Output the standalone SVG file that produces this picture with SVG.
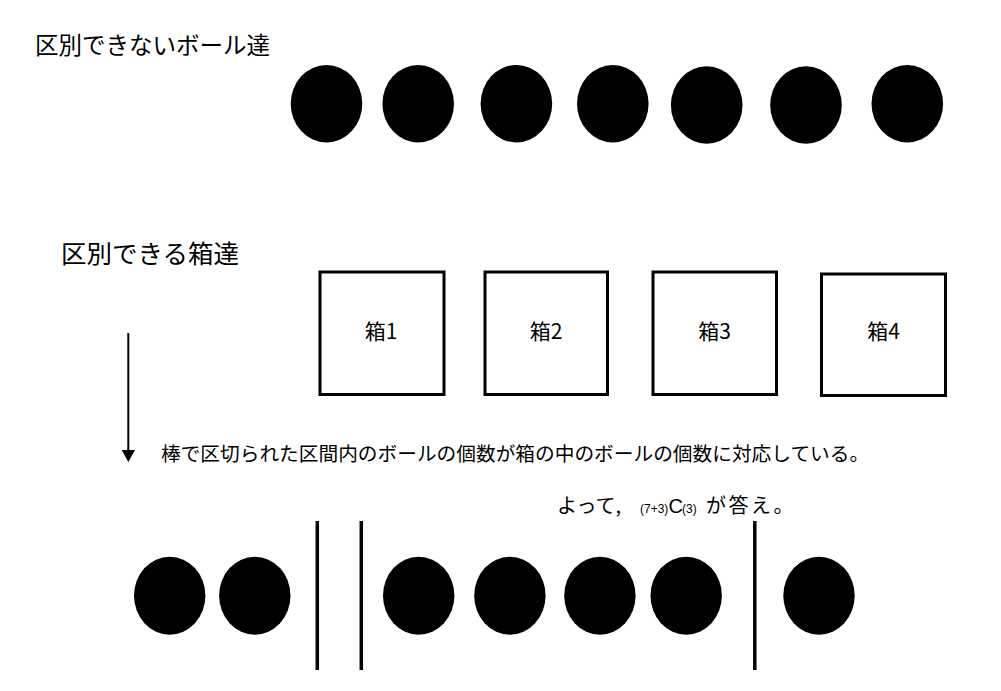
<svg xmlns="http://www.w3.org/2000/svg" width="1001" height="691" viewBox="0 0 1001 691">
<style>
.t{font-family:"Noto Sans CJK JP","Noto Sans",sans-serif;fill:#000}
.ball{fill:#000}
.box{fill:#fff;stroke:#000;stroke-width:3}
.bar{stroke:#000;stroke-width:3.5}
</style>
<rect width="1001" height="691" fill="#fff"/>
<text id="label-balls" class="t" x="35" y="54" font-size="23.5">区別できないボール達</text>
<g id="top-balls">
<ellipse class="ball" cx="326.5" cy="103.7" rx="35.8" ry="38.7"/>
<ellipse class="ball" cx="418.2" cy="103.7" rx="35.8" ry="38.7"/>
<ellipse class="ball" cx="516.4" cy="103.7" rx="35.8" ry="38.7"/>
<ellipse class="ball" cx="612.8" cy="103.7" rx="35.8" ry="38.7"/>
<ellipse class="ball" cx="706.7" cy="105" rx="35.8" ry="38.7"/>
<ellipse class="ball" cx="806" cy="105" rx="35.8" ry="38.7"/>
<ellipse class="ball" cx="907.3" cy="103.7" rx="35.8" ry="38.7"/>
</g>
<text id="label-boxes" class="t" x="61" y="263" font-size="25.5">区別できる箱達</text>
<g id="box1"><rect class="box" x="320" y="272" width="124" height="122.5"/><text class="t" x="381" y="338.5" font-size="21" text-anchor="middle">箱1</text></g>
<g id="box2"><rect class="box" x="485" y="272" width="122.5" height="122.5"/><text class="t" x="546" y="338.5" font-size="21" text-anchor="middle">箱2</text></g>
<g id="box3"><rect class="box" x="653" y="272" width="123.5" height="122.5"/><text class="t" x="714.5" y="338.5" font-size="21" text-anchor="middle">箱3</text></g>
<g id="box4"><rect class="box" x="821.5" y="274" width="124" height="121.5"/><text class="t" x="883.5" y="338.5" font-size="21" text-anchor="middle">箱4</text></g>
<g id="connectors">
<line x1="128.3" y1="333" x2="128.3" y2="451" stroke="#000" stroke-width="2"/>
<polygon points="121.7,450 135,450 128.3,462" fill="#000"/>
</g>
<text id="explanation" class="t" x="161" y="461" font-size="19.7">棒で区切られた区間内のボールの個数が箱の中のボールの個数に対応している。</text>
<text id="answer" class="t" y="513" font-size="20"><tspan x="557">よって,</tspan><tspan x="640" font-family="Liberation Sans" font-size="12">(7+3)</tspan><tspan x="668.5" font-family="Liberation Sans" font-size="20">C</tspan><tspan x="682" font-family="Liberation Sans" font-size="12">(3)</tspan><tspan x="706" letter-spacing="2.5">が答え。</tspan></text>
<g id="bars">
<line class="bar" x1="317.3" y1="521" x2="317.3" y2="670"/>
<line class="bar" x1="361.3" y1="521" x2="361.3" y2="670"/>
<line class="bar" x1="754.8" y1="521" x2="754.8" y2="670"/>
</g>
<g id="bottom-balls">
<ellipse class="ball" cx="169.7" cy="595.7" rx="35.7" ry="39"/>
<ellipse class="ball" cx="254.8" cy="595.7" rx="35.7" ry="39"/>
<ellipse class="ball" cx="418.7" cy="595.7" rx="35.7" ry="39"/>
<ellipse class="ball" cx="509.9" cy="595.7" rx="35.7" ry="39"/>
<ellipse class="ball" cx="599.9" cy="595.7" rx="35.7" ry="39"/>
<ellipse class="ball" cx="686.2" cy="595.7" rx="35.7" ry="39"/>
<ellipse class="ball" cx="819" cy="595.7" rx="35.7" ry="39"/>
</g>
</svg>
